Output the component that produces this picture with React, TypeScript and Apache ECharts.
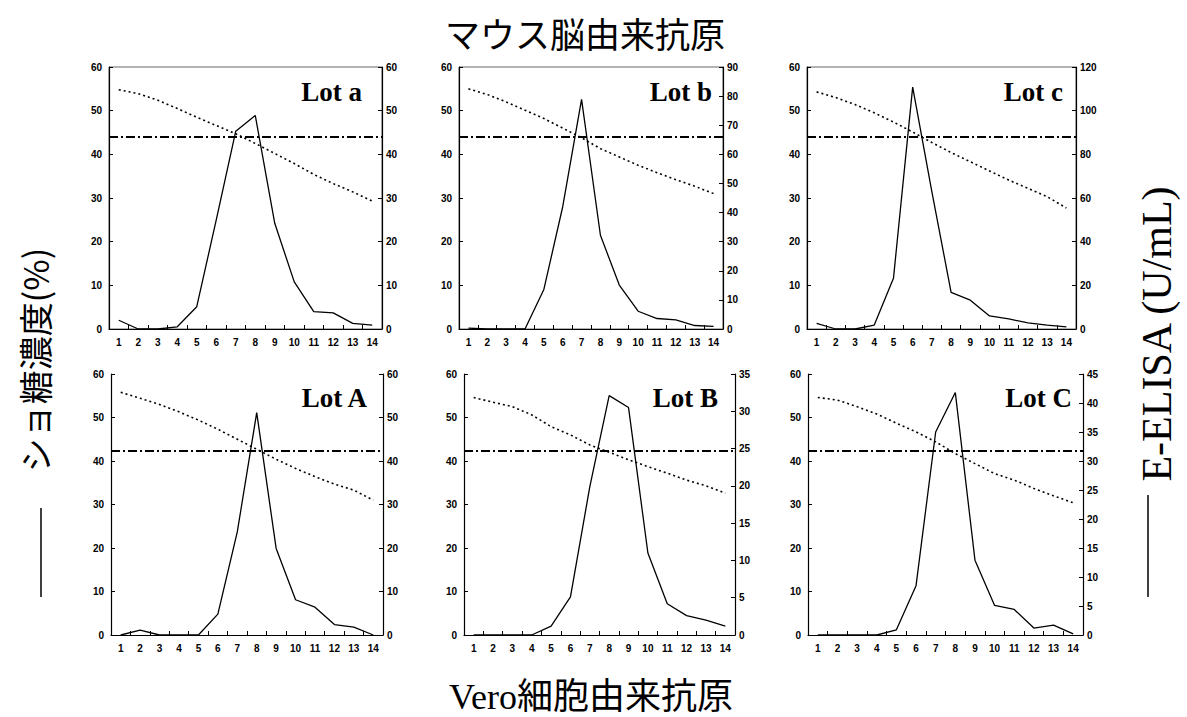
import React, { useEffect, useRef } from "react";
import * as echarts from "echarts";

const categories = ["1", "2", "3", "4", "5", "6", "7", "8", "9", "10", "11", "12", "13", "14"];

const lotNames = ["Lot a", "Lot b", "Lot c", "Lot A", "Lot B", "Lot C"];

// sucrose concentration (%), left axis
const sucrose_a = [54.8, 53.9, 52.4, 50.5, 48.5, 46.6, 44.7, 42.5, 40.2, 37.9, 35.4, 33.3, 31.4, 29.3];
const sucrose_b = [55.0, 53.7, 52.0, 50.1, 48.2, 46.0, 43.8, 41.3, 39.4, 37.5, 35.8, 34.2, 32.7, 31.0];
const sucrose_c = [54.3, 53.0, 51.4, 49.5, 47.4, 45.1, 42.7, 40.4, 38.3, 36.2, 34.1, 32.2, 30.3, 27.7];
const sucrose_A = [55.8, 54.4, 53.0, 51.3, 49.4, 47.3, 45.0, 42.7, 40.4, 38.3, 36.4, 34.7, 33.3, 31.0];
const sucrose_B = [54.6, 53.5, 52.5, 50.6, 47.9, 46.0, 43.7, 42.0, 40.3, 38.7, 37.2, 35.6, 34.3, 32.6];
const sucrose_C = [54.6, 54.0, 52.5, 50.8, 48.7, 46.7, 44.4, 41.7, 39.4, 37.1, 35.6, 33.7, 32.0, 30.4];

// E-ELISA (U/mL), right axis
const elisa_a = [2.0, 0, 0, 0.5, 5.1, 25, 45.3, 48.9, 24.2, 10.8, 4.0, 3.7, 1.3, 0.9];
const elisa_b = [0.3, 0, 0, 0, 13.6, 42, 78.9, 32.2, 15.1, 6.1, 3.6, 3.1, 1.2, 0.9];
const elisa_c = [2.6, 0, 0, 1.8, 23.2, 110.8, 62.8, 16.8, 13.2, 6.0, 4.6, 2.8, 1.8, 1.0];
const elisa_A = [0, 1.1, 0, 0, 0, 4.8, 23.7, 51.1, 19.9, 8.1, 6.4, 2.4, 1.8, 0];
const elisa_B = [0, 0, 0, 0, 1.2, 5.1, 19.9, 32.1, 30.5, 11.0, 4.2, 2.6, 2.0, 1.2];
const elisa_C = [0, 0, 0, 0, 0.9, 8.5, 35.0, 41.8, 12.9, 5.1, 4.4, 1.2, 1.7, 0.2];

// reference sucrose level (dash-dot line)
const thresholds = [44, 44, 44, 42.3, 42.3, 42.3];

const rightMax = [60, 90, 120, 60, 35, 45];
const rightInterval = [10, 10, 20, 10, 5, 5];

const sucroseSets = [sucrose_a, sucrose_b, sucrose_c, sucrose_A, sucrose_B, sucrose_C];
const elisaSets = [elisa_a, elisa_b, elisa_c, elisa_A, elisa_B, elisa_C];

// layout
const grids = [
  { left: 109, top: 67, width: 273, height: 262 },
  { left: 459, top: 67, width: 264, height: 262 },
  { left: 807, top: 67, width: 269, height: 262 },
  { left: 111, top: 374, width: 272, height: 261 },
  { left: 464, top: 374, width: 271, height: 261 },
  { left: 808, top: 374, width: 275, height: 261 },
];
const lotPos = [
  [362, 92],
  [712, 92],
  [1063, 92],
  [367, 398],
  [718, 398],
  [1072, 398],
];

const tickFont = { fontFamily: "'Liberation Sans Narrow', 'Liberation Sans', Arial, sans-serif", fontWeight: "bold", fontSize: 10, color: "#000" };

export default function App() {
  const ref = useRef<HTMLDivElement>(null);
  useEffect(() => {
    if (!ref.current) return;
    const chart = echarts.init(ref.current, undefined, { renderer: "svg" });

    const gridOpts: any[] = [];
    const xAxes: any[] = [];
    const yAxes: any[] = [];
    const series: any[] = [];
    const graphics: any[] = [];

    for (let i = 0; i < 6; i++) {
      const g = grids[i];
      gridOpts.push({
        left: g.left,
        top: g.top,
        width: g.width,
        height: g.height,
        show: i < 3,
        borderColor: "#666",
        borderWidth: 1,
        containLabel: false,
      });
      xAxes.push({
        type: "category",
        gridIndex: i,
        data: categories,
        boundaryGap: true,
        axisLine: { show: true, lineStyle: { color: "#000", width: 1.2 } },
        axisTick: { show: true, inside: true, length: 4, lineStyle: { color: "#000" } },
        axisLabel: { ...tickFont, margin: 8, interval: 0 },
        splitLine: { show: false },
      });
      yAxes.push({
        type: "value",
        gridIndex: i,
        position: "left",
        min: 0,
        max: 60,
        interval: 10,
        axisLine: { show: true, lineStyle: { color: "#000", width: 1.2 } },
        axisTick: { show: true, inside: true, length: 4, lineStyle: { color: "#000" } },
        axisLabel: { ...tickFont, margin: 7 },
        splitLine: { show: false },
      });
      yAxes.push({
        type: "value",
        gridIndex: i,
        position: "right",
        min: 0,
        max: rightMax[i],
        interval: rightInterval[i],
        axisLine: { show: true, lineStyle: { color: "#000", width: 1.2 } },
        axisTick: { show: true, inside: true, length: 4, lineStyle: { color: "#000" } },
        axisLabel: { ...tickFont, margin: 4 },
        splitLine: { show: false },
      });
      series.push({
        type: "line",
        name: "sucrose " + lotNames[i],
        xAxisIndex: i,
        yAxisIndex: i * 2,
        data: sucroseSets[i],
        symbol: "none",
        lineStyle: { color: "#000", width: 1.6, type: [2, 3] },
        markLine: {
          silent: true,
          symbol: "none",
          label: { show: false },
          lineStyle: { color: "#000", width: 2, type: [9, 3, 2, 3] },
          data: [{ yAxis: thresholds[i] }],
        },
      });
      series.push({
        type: "line",
        name: "E-ELISA " + lotNames[i],
        xAxisIndex: i,
        yAxisIndex: i * 2 + 1,
        data: elisaSets[i],
        symbol: "none",
        lineStyle: { color: "#000", width: 1.3, type: "solid" },
      });
      graphics.push({
        type: "text",
        x: lotPos[i][0],
        y: lotPos[i][1],
        style: {
          text: lotNames[i],
          fill: "#000",
          font: "bold 27px 'Liberation Serif', 'DejaVu Serif', serif",
          align: "right",
          verticalAlign: "middle",
        },
      });
    }

    graphics.push(
      {
        type: "text",
        x: 585,
        y: 32,
        style: {
          text: "マウス脳由来抗原",
          fill: "#000",
          font: "normal 35px 'Noto Sans CJK JP', sans-serif",
          align: "center",
          verticalAlign: "middle",
        },
      },
      {
        type: "text",
        x: 591,
        y: 697,
        style: {
          text: "Vero細胞由来抗原",
          fill: "#000",
          font: "normal 36px 'Liberation Serif', 'Noto Sans CJK JP', serif",
          align: "center",
          verticalAlign: "middle",
        },
      },
      {
        type: "text",
        x: 34,
        y: 360,
        rotation: Math.PI / 2,
        style: {
          text: "ショ糖濃度(%)",
          fill: "#000",
          font: "normal 34px 'Noto Sans CJK JP', sans-serif",
          align: "center",
          verticalAlign: "middle",
        },
      },
      {
        type: "line",
        shape: { x1: 41, y1: 508, x2: 41, y2: 597 },
        style: { stroke: "#000", lineWidth: 1.5 },
      },
      {
        type: "text",
        x: 1157,
        y: 334,
        rotation: Math.PI / 2,
        style: {
          text: "E-ELISA (U/mL)",
          fill: "#000",
          font: "normal 42px 'Liberation Serif', 'DejaVu Serif', serif",
          align: "center",
          verticalAlign: "middle",
        },
      },
      {
        type: "line",
        shape: { x1: 1148, y1: 495, x2: 1148, y2: 597 },
        style: { stroke: "#000", lineWidth: 1.5 },
      }
    );

    chart.setOption({
      animation: false,
      backgroundColor: "#fff",
      grid: gridOpts,
      xAxis: xAxes,
      yAxis: yAxes,
      series,
      graphic: graphics,
    });
    return () => chart.dispose();
  }, []);
  return (
    <div
      ref={ref}
      style={{ position: "fixed", left: 0, top: 0, width: 1187, height: 717, background: "#fff" }}
    />
  );
}
